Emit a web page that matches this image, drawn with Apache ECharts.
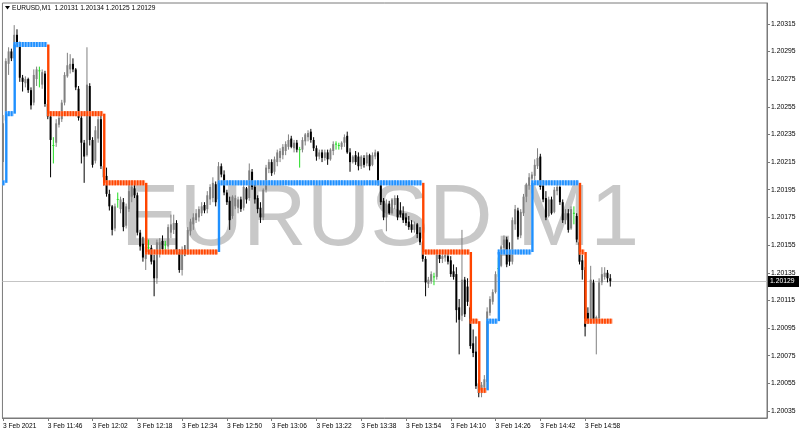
<!DOCTYPE html>
<html><head><meta charset="utf-8">
<script src="https://cdn.jsdelivr.net/npm/echarts@6/dist/echarts.min.js"></script>
<style>html,body{margin:0;padding:0;background:#fff}#c{width:800px;height:435px}</style>
</head><body><div id="c"></div>
<script>
const symbolTitle = 'EURUSD,M1';
const headerQuote = '1.20131 1.20134 1.20125 1.20129';
const tickBars = [0,16,32,48,64,80,96,112,128,144,160,176,192,208];
const tickLabels = ['3 Feb 2021','3 Feb 11:46','3 Feb 12:02','3 Feb 12:18','3 Feb 12:34','3 Feb 12:50','3 Feb 13:06','3 Feb 13:22','3 Feb 13:38','3 Feb 13:54','3 Feb 14:10','3 Feb 14:26','3 Feb 14:42','3 Feb 14:58'];
const priceTicks = [1.20035,1.20055,1.20075,1.20095,1.20115,1.20135,1.20155,1.20175,1.20195,1.20215,1.20235,1.20255,1.20275,1.20295,1.20315];

const opens = [
1.20215,1.20245,1.20286,1.20295,1.20290,1.20307,1.20300,1.20276,1.20272,1.20275,
1.20267,1.20258,1.20275,1.20281,1.20271,1.20279,1.20257,1.20248,1.20227,1.20229,
1.20242,1.20246,1.20258,1.20277,1.20282,1.20286,1.20282,1.20268,1.20247,1.20229,
1.20220,1.20270,1.20231,1.20216,1.20232,1.20246,1.20212,1.20205,1.20192,1.20183,
1.20167,1.20188,1.20181,1.20186,1.20169,1.20181,1.20190,1.20196,1.20191,1.20164,
1.20156,1.20145,1.20153,1.20153,1.20144,1.20131,1.20150,1.20158,1.20155,1.20154,
1.20164,1.20166,1.20171,1.20150,1.20137,1.20152,1.20150,1.20165,1.20170,1.20173,
1.20175,1.20178,1.20184,1.20181,1.20188,1.20189,1.20199,1.20188,1.20212,1.20206,
1.20193,1.20187,1.20176,1.20183,1.20182,1.20188,1.20182,1.20196,1.20189,1.20208,
1.20197,1.20189,1.20182,1.20175,1.20195,1.20210,1.20215,1.20208,1.20215,1.20218,
1.20220,1.20223,1.20226,1.20232,1.20225,1.20229,1.20224,1.20224,1.20230,1.20233,
1.20237,1.20231,1.20225,1.20219,1.20222,1.20218,1.20222,1.20217,1.20223,1.20228,
1.20227,1.20226,1.20229,1.20234,1.20222,1.20215,1.20220,1.20219,1.20212,1.20218,
1.20214,1.20220,1.20213,1.20219,1.20222,1.20199,1.20187,1.20175,1.20185,1.20178,
1.20184,1.20189,1.20180,1.20178,1.20175,1.20172,1.20170,1.20166,1.20170,1.20164,
1.20157,1.20145,1.20127,1.20129,1.20132,1.20132,1.20148,1.20145,1.20146,1.20147,
1.20144,1.20136,1.20134,1.20110,1.20104,1.20130,1.20125,1.20110,1.20084,1.20078,
1.20055,1.20048,1.20052,1.20056,1.20106,1.20114,1.20121,1.20138,1.20140,1.20153,
1.20159,1.20150,1.20143,1.20170,1.20180,1.20162,1.20178,1.20190,1.20198,1.20203,
1.20205,1.20212,1.20219,1.20198,1.20189,1.20176,1.20188,1.20179,1.20194,1.20197,
1.20186,1.20173,1.20178,1.20167,1.20178,1.20176,1.20157,1.20144,1.20137,1.20106,
1.20101,1.20128,1.20100,1.20102,1.20128,1.20132,1.20135,1.20131];
const highs = [
1.20249,1.20290,1.20298,1.20297,1.20314,1.20311,1.20302,1.20278,1.20277,1.20276,
1.20269,1.20282,1.20284,1.20284,1.20282,1.20281,1.20260,1.20250,1.20233,1.20246,
1.20251,1.20260,1.20280,1.20294,1.20293,1.20290,1.20283,1.20270,1.20249,1.20231,
1.20298,1.20272,1.20233,1.20241,1.20248,1.20249,1.20217,1.20211,1.20195,1.20184,
1.20185,1.20193,1.20190,1.20189,1.20185,1.20199,1.20200,1.20201,1.20193,1.20166,
1.20161,1.20156,1.20159,1.20155,1.20148,1.20159,1.20160,1.20162,1.20158,1.20170,
1.20177,1.20177,1.20173,1.20152,1.20154,1.20155,1.20168,1.20174,1.20178,1.20181,
1.20183,1.20186,1.20186,1.20194,1.20199,1.20204,1.20201,1.20215,1.20214,1.20209,
1.20195,1.20190,1.20191,1.20191,1.20190,1.20190,1.20199,1.20197,1.20214,1.20210,
1.20199,1.20191,1.20186,1.20196,1.20213,1.20217,1.20217,1.20219,1.20224,1.20225,
1.20228,1.20230,1.20235,1.20234,1.20231,1.20231,1.20226,1.20233,1.20236,1.20238,
1.20239,1.20233,1.20227,1.20224,1.20224,1.20224,1.20224,1.20225,1.20230,1.20230,
1.20229,1.20230,1.20235,1.20237,1.20225,1.20220,1.20223,1.20222,1.20220,1.20220,
1.20222,1.20221,1.20222,1.20224,1.20223,1.20200,1.20189,1.20188,1.20187,1.20189,
1.20191,1.20191,1.20186,1.20183,1.20178,1.20176,1.20173,1.20172,1.20171,1.20168,
1.20158,1.20147,1.20132,1.20136,1.20135,1.20151,1.20150,1.20149,1.20149,1.20149,
1.20147,1.20141,1.20139,1.20116,1.20166,1.20132,1.20131,1.20112,1.20094,1.20089,
1.20058,1.20056,1.20061,1.20110,1.20118,1.20123,1.20136,1.20146,1.20155,1.20162,
1.20161,1.20157,1.20175,1.20184,1.20182,1.20181,1.20192,1.20200,1.20207,1.20208,
1.20217,1.20225,1.20221,1.20202,1.20194,1.20190,1.20190,1.20197,1.20199,1.20198,
1.20188,1.20181,1.20181,1.20183,1.20183,1.20178,1.20158,1.20148,1.20139,1.20110,
1.20140,1.20130,1.20104,1.20131,1.20139,1.20139,1.20137,1.20134];
const lows = [
1.20202,1.20243,1.20278,1.20288,1.20288,1.20298,1.20273,1.20266,1.20269,1.20265,
1.20253,1.20256,1.20270,1.20269,1.20268,1.20255,1.20246,1.20204,1.20214,1.20226,
1.20240,1.20244,1.20256,1.20276,1.20279,1.20280,1.20267,1.20245,1.20214,1.20200,
1.20219,1.20227,1.20211,1.20214,1.20229,1.20210,1.20198,1.20190,1.20180,1.20162,
1.20165,1.20182,1.20178,1.20165,1.20167,1.20179,1.20186,1.20189,1.20162,1.20151,
1.20143,1.20137,1.20149,1.20141,1.20118,1.20127,1.20146,1.20150,1.20151,1.20152,
1.20160,1.20163,1.20149,1.20135,1.20133,1.20147,1.20148,1.20162,1.20166,1.20171,
1.20172,1.20176,1.20178,1.20178,1.20184,1.20186,1.20183,1.20186,1.20204,1.20191,
1.20184,1.20166,1.20174,1.20181,1.20178,1.20179,1.20180,1.20185,1.20187,1.20195,
1.20185,1.20178,1.20171,1.20173,1.20193,1.20207,1.20205,1.20206,1.20212,1.20215,
1.20217,1.20220,1.20224,1.20225,1.20222,1.20222,1.20211,1.20222,1.20227,1.20230,
1.20229,1.20223,1.20216,1.20217,1.20215,1.20216,1.20213,1.20216,1.20220,1.20224,
1.20224,1.20224,1.20226,1.20221,1.20208,1.20214,1.20213,1.20209,1.20210,1.20211,
1.20212,1.20209,1.20212,1.20217,1.20198,1.20184,1.20173,1.20165,1.20177,1.20177,
1.20181,1.20173,1.20175,1.20171,1.20169,1.20166,1.20164,1.20164,1.20160,1.20155,
1.20143,1.20118,1.20124,1.20127,1.20126,1.20130,1.20142,1.20142,1.20143,1.20141,
1.20132,1.20130,1.20099,1.20076,1.20100,1.20103,1.20111,1.20080,1.20074,1.20051,
1.20045,1.20045,1.20048,1.20051,1.20104,1.20112,1.20120,1.20132,1.20139,1.20150,
1.20139,1.20140,1.20141,1.20166,1.20159,1.20160,1.20176,1.20186,1.20195,1.20200,
1.20202,1.20210,1.20195,1.20186,1.20173,1.20175,1.20177,1.20178,1.20191,1.20184,
1.20171,1.20170,1.20164,1.20166,1.20170,1.20157,1.20141,1.20130,1.20089,1.20098,
1.20099,1.20099,1.20076,1.20100,1.20126,1.20130,1.20128,1.20125];
const closes = [
1.20243,1.20288,1.20295,1.20290,1.20307,1.20300,1.20276,1.20273,1.20275,1.20267,
1.20256,1.20278,1.20282,1.20281,1.20280,1.20257,1.20248,1.20231,1.20227,1.20243,
1.20247,1.20258,1.20278,1.20285,1.20286,1.20282,1.20269,1.20247,1.20229,1.20219,
1.20271,1.20231,1.20213,1.20238,1.20246,1.20212,1.20204,1.20192,1.20183,1.20166,
1.20183,1.20188,1.20188,1.20168,1.20183,1.20194,1.20197,1.20191,1.20164,1.20154,
1.20146,1.20154,1.20153,1.20143,1.20131,1.20157,1.20157,1.20152,1.20155,1.20168,
1.20170,1.20171,1.20150,1.20137,1.20152,1.20149,1.20166,1.20172,1.20175,1.20178,
1.20181,1.20183,1.20180,1.20191,1.20197,1.20200,1.20186,1.20212,1.20206,1.20193,
1.20186,1.20173,1.20190,1.20189,1.20188,1.20181,1.20197,1.20188,1.20209,1.20197,
1.20188,1.20181,1.20175,1.20195,1.20211,1.20215,1.20207,1.20217,1.20222,1.20223,
1.20226,1.20228,1.20231,1.20226,1.20229,1.20224,1.20224,1.20231,1.20235,1.20236,
1.20231,1.20225,1.20219,1.20222,1.20218,1.20222,1.20217,1.20224,1.20228,1.20228,
1.20227,1.20229,1.20233,1.20222,1.20215,1.20219,1.20215,1.20212,1.20219,1.20213,
1.20220,1.20212,1.20220,1.20222,1.20200,1.20186,1.20175,1.20185,1.20178,1.20188,
1.20189,1.20175,1.20177,1.20173,1.20171,1.20168,1.20166,1.20170,1.20163,1.20157,
1.20145,1.20128,1.20130,1.20134,1.20132,1.20148,1.20145,1.20147,1.20148,1.20143,
1.20134,1.20132,1.20108,1.20101,1.20130,1.20105,1.20114,1.20082,1.20077,1.20053,
1.20048,1.20054,1.20058,1.20107,1.20116,1.20121,1.20134,1.20138,1.20154,1.20159,
1.20141,1.20143,1.20173,1.20181,1.20161,1.20179,1.20190,1.20199,1.20204,1.20206,
1.20213,1.20218,1.20197,1.20188,1.20175,1.20188,1.20178,1.20195,1.20197,1.20186,
1.20173,1.20178,1.20166,1.20181,1.20178,1.20159,1.20143,1.20137,1.20096,1.20101,
1.20130,1.20101,1.20103,1.20128,1.20134,1.20135,1.20131,1.20129];

// step indicator: run start bar, level, direction
const stepStart = [0,1,4,16,36,51,77,150,167,170,173,177,189,206,208];
const stepLevel = [1.2020,1.2025,1.2030,1.2025,1.2020,1.2015,1.2020,1.2015,1.2010,1.2005,1.2010,1.2015,1.2020,1.2015,1.2010];
const stepTrend = ['up','up','up','down','down','down','up','down','down','down','up','up','up','down','down'];

const FONT = '"Liberation Sans", Arial, sans-serif';
const BULL = '#808080', BEAR = '#000000', DOJI = '#22dd22';
const BLUE = '#1e90ff', BLUE_L = '#8cc4ff', ORANGE = '#ff4500', ORANGE_L = '#ff9f7c';
const lastClose = closes[closes.length - 1];

const candleData = opens.map((o, i) => [i, o, highs[i], lows[i], closes[i]]);
const stepData = [];
for (let s = 0; s < stepStart.length; s++) {
  const end = s + 1 < stepStart.length ? stepStart[s + 1] : opens.length;
  for (let i = stepStart[s]; i < end; i++) {
    const prev = (i === stepStart[s] && s > 0) ? stepLevel[s - 1] : stepLevel[s];
    stepData.push([i, stepLevel[s], stepTrend[s] === 'up' ? 1 : 0, prev]);
  }
}

function renderCandle(params, api) {
  const i = api.value(0), o = api.value(1), h = api.value(2), l = api.value(3), c = api.value(4);
  const po = api.coord([i, o]), ph = api.coord([i, h]), pl = api.coord([i, l]), pc = api.coord([i, c]);
  const x = po[0];
  if (o === c) {
    return { type: 'group', children: [
      { type: 'line', shape: { x1: x, y1: ph[1], x2: x, y2: pl[1] }, style: { stroke: DOJI, lineWidth: 1 } },
      { type: 'rect', shape: { x: x - 1, y: po[1] - 0.5, width: 2, height: 1 }, style: { fill: DOJI } }
    ]};
  }
  const col = c > o ? BULL : BEAR;
  const top = Math.min(po[1], pc[1]);
  const hgt = Math.max(1, Math.abs(po[1] - pc[1]));
  return { type: 'group', children: [
    { type: 'line', shape: { x1: x, y1: ph[1], x2: x, y2: pl[1] }, style: { stroke: col, lineWidth: 1 } },
    { type: 'rect', shape: { x: x - 1, y: top, width: 2, height: hgt }, style: { fill: col } }
  ]};
}

function renderStep(params, api) {
  const i = api.value(0), lv = api.value(1), up = api.value(2), prev = api.value(3);
  const p = api.coord([i, lv]);
  const w = api.size([1, 0])[0];
  const col = up ? BLUE : ORANGE, light = up ? BLUE_L : ORANGE_L;
  const x0 = p[0] - 0.6;
  const ch = [
    { type: 'rect', shape: { x: x0, y: p[1] - 2.5, width: w, height: 5 }, style: { fill: light } },
    { type: 'rect', shape: { x: x0, y: p[1] - 2.5, width: w * 0.62, height: 5 }, style: { fill: col } }
  ];
  if (prev !== lv) {
    const q = api.coord([i, prev]);
    ch.push({ type: 'line', shape: { x1: x0 + 1.1, y1: q[1], x2: x0 + 1.1, y2: p[1] }, style: { stroke: col, lineWidth: 2.4 } });
  }
  return { type: 'group', children: ch };
}

// current price line across the plot plus its label box on the price axis
function renderPriceLine(params, api) {
  const cs = params.coordSys;
  const y = Math.round(api.coord([0, api.value(0)])[1]) + 0.5;
  return { type: 'group', children: [
    { type: 'line', shape: { x1: cs.x, y1: y, x2: cs.x + cs.width, y2: y }, style: { stroke: '#c4c4c4', lineWidth: 1 } },
    { type: 'rect', shape: { x: cs.x + cs.width + 1, y: y - 5.5, width: 31, height: 11 }, style: { fill: '#000' } },
    { type: 'text', style: { x: cs.x + cs.width + 3, y: y, text: api.value(0).toFixed(5), fill: '#fff', font: '6.8px "Liberation Sans", Arial, sans-serif', textVerticalAlign: 'middle' } }
  ]};
}

const chart = echarts.init(document.getElementById('c'), null, { renderer: 'canvas' });
chart.setOption({
  animation: false,
  backgroundColor: '#ffffff',
  grid: { left: 2, right: 33, top: 3, bottom: 17, show: true, borderColor: '#7a7a7a', borderWidth: 1, backgroundColor: 'transparent' },
  graphic: [
    { type: 'text', z: 0, x: 380, y: 221, style: { text: symbolTitle, fill: '#c8c8c8', font: '88px "Liberation Sans", Arial, sans-serif', textAlign: 'center', textVerticalAlign: 'middle' } },
    { type: 'polygon', z: 10, shape: { points: [[5, 6], [10, 6], [7.5, 9.5]] }, style: { fill: '#000' } },
    { type: 'text', z: 10, x: 12, y: 8, style: { text: symbolTitle + '  ' + headerQuote, fill: '#000', font: '6.6px "Liberation Sans", Arial, sans-serif', textVerticalAlign: 'middle' } }
  ],
  xAxis: {
    type: 'value', min: -0.2, max: 273,
    axisLine: { show: true, onZero: false, lineStyle: { color: '#7a7a7a' } },
    splitLine: { show: false },
    axisTick: { show: true, length: 3, customValues: tickBars, lineStyle: { color: '#7a7a7a' } },
    axisLabel: { customValues: tickBars, formatter: v => tickLabels[tickBars.indexOf(v)], align: 'left', fontSize: 6.6, margin: 5, fontFamily: FONT, color: '#000' }
  },
  yAxis: {
    type: 'value', position: 'right', min: 1.20030, max: 1.20330, scale: true,
    splitLine: { show: false },
    axisLine: { show: true, onZero: false, lineStyle: { color: '#7a7a7a' } },
    axisTick: { show: true, length: 3, customValues: priceTicks, lineStyle: { color: '#7a7a7a' } },
    axisLabel: { customValues: priceTicks, formatter: v => v.toFixed(5), fontSize: 6.8, margin: 4, fontFamily: FONT, color: '#000' }
  },
  series: [
    { type: 'custom', name: 'price', renderItem: renderPriceLine, data: [[lastClose]], clip: false, z: 1, silent: true, encode: { y: 0 } },
    { type: 'custom', name: 'candles', renderItem: renderCandle, data: candleData, clip: true, z: 3, encode: { x: 0, y: [1, 2, 3, 4] } },
    { type: 'custom', name: 'step', renderItem: renderStep, data: stepData, clip: true, z: 4, encode: { x: 0, y: 1 } }
  ]
});
</script></body></html>
